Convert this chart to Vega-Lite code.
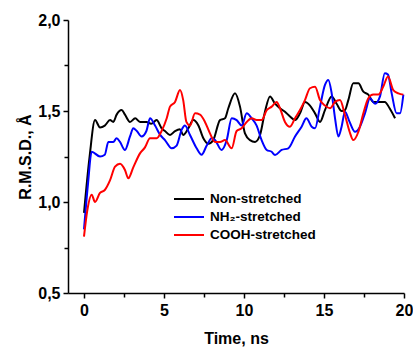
{
  "$schema": "https://vega.github.io/schema/vega-lite/v6.json",
  "width": 336,
  "height": 273,
  "autosize": {"type": "none"},
  "padding": {"left": 68, "top": 20, "right": 9, "bottom": 54},
  "background": "white",
  "config": {
    "view": {"stroke": null},
    "font": "Liberation Sans",
    "axis": {
      "domainColor": "black", "domainWidth": 1.5, "tickColor": "black", "tickWidth": 1.5,
      "labelFont": "Liberation Sans", "labelFontWeight": "bold", "labelFontSize": 16, "labelColor": "black",
      "titleFont": "Liberation Sans", "titleFontWeight": "bold", "titleFontSize": 16, "titleColor": "black",
      "grid": false, "labelFlush": false, "labelOverlap": false
    }
  },
  "data": {"values": [
    {"s":"Non-stretched","t":0.0,"r":0.94},{"s":"Non-stretched","t":0.35,"r":1.25},{"s":"Non-stretched","t":0.69,"r":1.45},{"s":"Non-stretched","t":1.0,"r":1.41},{"s":"Non-stretched","t":1.3,"r":1.42},{"s":"Non-stretched","t":1.63,"r":1.45},{"s":"Non-stretched","t":1.83,"r":1.44},{"s":"Non-stretched","t":2.04,"r":1.48},{"s":"Non-stretched","t":2.35,"r":1.505},{"s":"Non-stretched","t":2.56,"r":1.48},{"s":"Non-stretched","t":2.875,"r":1.44},{"s":"Non-stretched","t":3.2,"r":1.46},{"s":"Non-stretched","t":3.5,"r":1.44},{"s":"Non-stretched","t":3.9,"r":1.44},{"s":"Non-stretched","t":4.2,"r":1.43},{"s":"Non-stretched","t":4.54,"r":1.45},{"s":"Non-stretched","t":4.85,"r":1.405},{"s":"Non-stretched","t":5.06,"r":1.39},{"s":"Non-stretched","t":5.375,"r":1.368},{"s":"Non-stretched","t":5.69,"r":1.39},{"s":"Non-stretched","t":6.0,"r":1.4},{"s":"Non-stretched","t":6.2,"r":1.368},{"s":"Non-stretched","t":6.52,"r":1.405},{"s":"Non-stretched","t":6.83,"r":1.45},{"s":"Non-stretched","t":7.15,"r":1.42},{"s":"Non-stretched","t":7.46,"r":1.35},{"s":"Non-stretched","t":7.77,"r":1.32},{"s":"Non-stretched","t":8.08,"r":1.34},{"s":"Non-stretched","t":8.5,"r":1.45},{"s":"Non-stretched","t":8.81,"r":1.46},{"s":"Non-stretched","t":9.02,"r":1.515},{"s":"Non-stretched","t":9.44,"r":1.597},{"s":"Non-stretched","t":9.75,"r":1.524},{"s":"Non-stretched","t":10.06,"r":1.377},{"s":"Non-stretched","t":10.375,"r":1.34},{"s":"Non-stretched","t":10.69,"r":1.33},{"s":"Non-stretched","t":11.0,"r":1.368},{"s":"Non-stretched","t":11.31,"r":1.496},{"s":"Non-stretched","t":11.625,"r":1.58},{"s":"Non-stretched","t":11.94,"r":1.54},{"s":"Non-stretched","t":12.25,"r":1.515},{"s":"Non-stretched","t":12.56,"r":1.496},{"s":"Non-stretched","t":12.875,"r":1.47},{"s":"Non-stretched","t":13.19,"r":1.45},{"s":"Non-stretched","t":13.5,"r":1.487},{"s":"Non-stretched","t":13.81,"r":1.55},{"s":"Non-stretched","t":14.125,"r":1.53},{"s":"Non-stretched","t":14.44,"r":1.487},{"s":"Non-stretched","t":14.75,"r":1.44},{"s":"Non-stretched","t":15.06,"r":1.505},{"s":"Non-stretched","t":15.48,"r":1.58},{"s":"Non-stretched","t":15.79,"r":1.54},{"s":"Non-stretched","t":16.1,"r":1.5},{"s":"Non-stretched","t":16.31,"r":1.505},{"s":"Non-stretched","t":16.52,"r":1.56},{"s":"Non-stretched","t":16.83,"r":1.652},{"s":"Non-stretched","t":17.15,"r":1.652},{"s":"Non-stretched","t":17.46,"r":1.606},{"s":"Non-stretched","t":17.77,"r":1.59},{"s":"Non-stretched","t":18.08,"r":1.55},{"s":"Non-stretched","t":18.5,"r":1.55},{"s":"Non-stretched","t":18.8,"r":1.55},{"s":"Non-stretched","t":19.1,"r":1.515},{"s":"Non-stretched","t":19.44,"r":1.46},
    {"s":"NH₂-stretched","t":0.0,"r":0.85},{"s":"NH₂-stretched","t":0.25,"r":1.1},{"s":"NH₂-stretched","t":0.48,"r":1.276},{"s":"NH₂-stretched","t":1.0,"r":1.25},{"s":"NH₂-stretched","t":1.3,"r":1.26},{"s":"NH₂-stretched","t":1.52,"r":1.33},{"s":"NH₂-stretched","t":1.83,"r":1.33},{"s":"NH₂-stretched","t":2.04,"r":1.35},{"s":"NH₂-stretched","t":2.25,"r":1.33},{"s":"NH₂-stretched","t":2.56,"r":1.286},{"s":"NH₂-stretched","t":2.875,"r":1.36},{"s":"NH₂-stretched","t":3.08,"r":1.405},{"s":"NH₂-stretched","t":3.3,"r":1.39},{"s":"NH₂-stretched","t":3.6,"r":1.36},{"s":"NH₂-stretched","t":3.9,"r":1.39},{"s":"NH₂-stretched","t":4.125,"r":1.46},{"s":"NH₂-stretched","t":4.44,"r":1.42},{"s":"NH₂-stretched","t":4.75,"r":1.37},{"s":"NH₂-stretched","t":5.06,"r":1.34},{"s":"NH₂-stretched","t":5.48,"r":1.295},{"s":"NH₂-stretched","t":5.79,"r":1.31},{"s":"NH₂-stretched","t":6.1,"r":1.396},{"s":"NH₂-stretched","t":6.31,"r":1.42},{"s":"NH₂-stretched","t":6.625,"r":1.368},{"s":"NH₂-stretched","t":7.04,"r":1.295},{"s":"NH₂-stretched","t":7.35,"r":1.26},{"s":"NH₂-stretched","t":7.67,"r":1.31},{"s":"NH₂-stretched","t":7.98,"r":1.35},{"s":"NH₂-stretched","t":8.19,"r":1.34},{"s":"NH₂-stretched","t":8.6,"r":1.286},{"s":"NH₂-stretched","t":8.92,"r":1.34},{"s":"NH₂-stretched","t":9.23,"r":1.46},{"s":"NH₂-stretched","t":9.54,"r":1.45},{"s":"NH₂-stretched","t":9.85,"r":1.42},{"s":"NH₂-stretched","t":10.17,"r":1.487},{"s":"NH₂-stretched","t":10.48,"r":1.46},{"s":"NH₂-stretched","t":10.79,"r":1.42},{"s":"NH₂-stretched","t":11.1,"r":1.34},{"s":"NH₂-stretched","t":11.42,"r":1.286},{"s":"NH₂-stretched","t":11.73,"r":1.276},{"s":"NH₂-stretched","t":11.94,"r":1.258},{"s":"NH₂-stretched","t":12.35,"r":1.286},{"s":"NH₂-stretched","t":12.77,"r":1.295},{"s":"NH₂-stretched","t":13.19,"r":1.36},{"s":"NH₂-stretched","t":13.6,"r":1.414},{"s":"NH₂-stretched","t":13.9,"r":1.46},{"s":"NH₂-stretched","t":14.23,"r":1.414},{"s":"NH₂-stretched","t":14.44,"r":1.405},{"s":"NH₂-stretched","t":14.75,"r":1.524},{"s":"NH₂-stretched","t":15.06,"r":1.643},{"s":"NH₂-stretched","t":15.27,"r":1.67},{"s":"NH₂-stretched","t":15.48,"r":1.597},{"s":"NH₂-stretched","t":15.69,"r":1.46},{"s":"NH₂-stretched","t":15.9,"r":1.36},{"s":"NH₂-stretched","t":16.1,"r":1.414},{"s":"NH₂-stretched","t":16.31,"r":1.496},{"s":"NH₂-stretched","t":16.6,"r":1.44},{"s":"NH₂-stretched","t":16.94,"r":1.386},{"s":"NH₂-stretched","t":17.25,"r":1.414},{"s":"NH₂-stretched","t":17.56,"r":1.487},{"s":"NH₂-stretched","t":17.875,"r":1.57},{"s":"NH₂-stretched","t":18.19,"r":1.54},{"s":"NH₂-stretched","t":18.5,"r":1.58},{"s":"NH₂-stretched","t":18.8,"r":1.707},{"s":"NH₂-stretched","t":19.0,"r":1.7},{"s":"NH₂-stretched","t":19.23,"r":1.597},{"s":"NH₂-stretched","t":19.54,"r":1.487},{"s":"NH₂-stretched","t":19.75,"r":1.487},{"s":"NH₂-stretched","t":19.96,"r":1.59},
    {"s":"COOH-stretched","t":0.0,"r":0.81},{"s":"COOH-stretched","t":0.2,"r":0.95},{"s":"COOH-stretched","t":0.48,"r":1.04},{"s":"COOH-stretched","t":0.69,"r":1.0},{"s":"COOH-stretched","t":1.0,"r":1.05},{"s":"COOH-stretched","t":1.3,"r":1.066},{"s":"COOH-stretched","t":1.63,"r":1.12},{"s":"COOH-stretched","t":1.94,"r":1.194},{"s":"COOH-stretched","t":2.25,"r":1.21},{"s":"COOH-stretched","t":2.56,"r":1.176},{"s":"COOH-stretched","t":2.77,"r":1.13},{"s":"COOH-stretched","t":3.08,"r":1.19},{"s":"COOH-stretched","t":3.5,"r":1.267},{"s":"COOH-stretched","t":3.81,"r":1.3},{"s":"COOH-stretched","t":4.125,"r":1.35},{"s":"COOH-stretched","t":4.54,"r":1.35},{"s":"COOH-stretched","t":4.85,"r":1.39},{"s":"COOH-stretched","t":5.17,"r":1.46},{"s":"COOH-stretched","t":5.375,"r":1.524},{"s":"COOH-stretched","t":5.69,"r":1.55},{"s":"COOH-stretched","t":6.0,"r":1.615},{"s":"COOH-stretched","t":6.2,"r":1.56},{"s":"COOH-stretched","t":6.4,"r":1.44},{"s":"COOH-stretched","t":6.625,"r":1.42},{"s":"COOH-stretched","t":6.94,"r":1.487},{"s":"COOH-stretched","t":7.25,"r":1.48},{"s":"COOH-stretched","t":7.56,"r":1.44},{"s":"COOH-stretched","t":7.875,"r":1.377},{"s":"COOH-stretched","t":8.19,"r":1.33},{"s":"COOH-stretched","t":8.5,"r":1.33},{"s":"COOH-stretched","t":8.81,"r":1.34},{"s":"COOH-stretched","t":9.23,"r":1.295},{"s":"COOH-stretched","t":9.54,"r":1.39},{"s":"COOH-stretched","t":9.85,"r":1.405},{"s":"COOH-stretched","t":10.17,"r":1.44},{"s":"COOH-stretched","t":10.48,"r":1.46},{"s":"COOH-stretched","t":10.79,"r":1.45},{"s":"COOH-stretched","t":11.1,"r":1.45},{"s":"COOH-stretched","t":11.42,"r":1.505},{"s":"COOH-stretched","t":11.73,"r":1.524},{"s":"COOH-stretched","t":12.04,"r":1.55},{"s":"COOH-stretched","t":12.25,"r":1.515},{"s":"COOH-stretched","t":12.56,"r":1.44},{"s":"COOH-stretched","t":12.875,"r":1.414},{"s":"COOH-stretched","t":13.19,"r":1.46},{"s":"COOH-stretched","t":13.5,"r":1.505},{"s":"COOH-stretched","t":13.81,"r":1.56},{"s":"COOH-stretched","t":14.125,"r":1.625},{"s":"COOH-stretched","t":14.44,"r":1.633},{"s":"COOH-stretched","t":14.75,"r":1.56},{"s":"COOH-stretched","t":15.06,"r":1.53},{"s":"COOH-stretched","t":15.375,"r":1.515},{"s":"COOH-stretched","t":15.69,"r":1.55},{"s":"COOH-stretched","t":16.0,"r":1.56},{"s":"COOH-stretched","t":16.31,"r":1.478},{"s":"COOH-stretched","t":16.6,"r":1.386},{"s":"COOH-stretched","t":16.83,"r":1.34},{"s":"COOH-stretched","t":17.15,"r":1.386},{"s":"COOH-stretched","t":17.46,"r":1.487},{"s":"COOH-stretched","t":17.77,"r":1.57},{"s":"COOH-stretched","t":18.08,"r":1.59},{"s":"COOH-stretched","t":18.4,"r":1.59},{"s":"COOH-stretched","t":18.7,"r":1.633},{"s":"COOH-stretched","t":19.0,"r":1.69},{"s":"COOH-stretched","t":19.33,"r":1.615},{"s":"COOH-stretched","t":19.65,"r":1.597},{"s":"COOH-stretched","t":19.96,"r":1.59}
  ]},
  "mark": {"type": "line", "strokeWidth": 2, "interpolate": "monotone"},
  "encoding": {
    "x": {
      "field": "t", "type": "quantitative",
      "scale": {"domain": [-1, 20], "nice": false, "zero": false},
      "axis": {
        "title": "Time, ns",
        "values": [0, 2.5, 5, 7.5, 10, 12.5, 15, 17.5, 20],
        "labelExpr": "datum.value % 5 === 0 ? format(datum.value, 'd') : ''",
        "tickSize": {"condition": {"test": "datum.value % 5 !== 0", "value": 4}, "value": 5},
        "labelPadding": 4,
        "titlePadding": 12
      }
    },
    "y": {
      "field": "r", "type": "quantitative",
      "scale": {"domain": [0.5, 2.0], "nice": false, "zero": false},
      "axis": {
        "title": "R.M.S.D., Å",
        "values": [0.5, 0.75, 1.0, 1.25, 1.5, 1.75, 2.0],
        "labelExpr": "round(datum.value * 4) % 2 === 0 ? replace(format(datum.value, '.1f'), '.', ',') : ''",
        "tickSize": {"condition": {"test": "round(datum.value * 4) % 2 !== 0", "value": 4}, "value": 5},
        "labelPadding": 3,
        "titlePadding": 4
      }
    },
    "color": {
      "field": "s", "type": "nominal",
      "scale": {"domain": ["Non-stretched", "NH₂-stretched", "COOH-stretched"], "range": ["#000000", "#0000ff", "#ff0000"]},
      "legend": {
        "title": null, "orient": "none", "legendX": 110, "legendY": 168,
        "symbolType": "M-1.5,0H1.5", "symbolSize": 400, "symbolStrokeWidth": 2, "symbolFillColor": "transparent",
        "labelFont": "Liberation Sans", "labelFontWeight": "bold", "labelFontSize": 13.5, "labelColor": "black",
        "labelOffset": 10, "rowPadding": 0, "padding": 0
      }
    }
  }
}
